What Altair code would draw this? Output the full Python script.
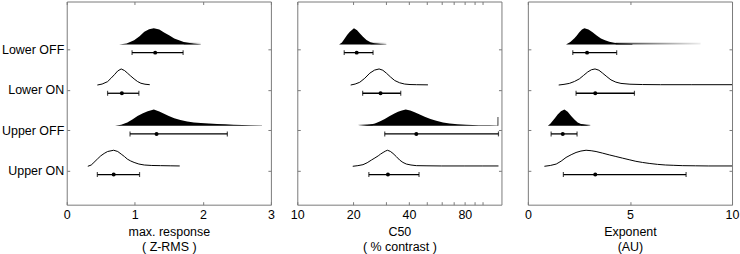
import altair as alt
import pandas as pd

# ---------------- data ----------------
ROWS = ["Lower OFF", "Lower ON", "Upper OFF", "Upper ON"]
FILLED = [True, False, True, False]

# Panel 1: max. response (Z-RMS)
P1_LOFF_X = [0.77, 0.88, 0.99, 1.07, 1.14, 1.21, 1.28, 1.36, 1.43, 1.51, 1.58, 1.72, 1.87, 1.97]
P1_LOFF_H = [0.0, 0.06, 0.25, 0.5, 0.78, 0.95, 1.0, 0.92, 0.74, 0.55, 0.36, 0.15, 0.04, 0.01]
P1_LON_X = [0.45, 0.52, 0.60, 0.65, 0.70, 0.75, 0.80, 0.85, 0.89, 0.94, 0.99, 1.04, 1.09, 1.15, 1.22]
P1_LON_H = [0.0, 0.06, 0.21, 0.42, 0.64, 0.88, 1.0, 0.9, 0.75, 0.56, 0.38, 0.22, 0.11, 0.05, 0.02]
P1_UOFF_X = [0.71, 0.80, 0.89, 0.97, 1.04, 1.12, 1.19, 1.28, 1.36, 1.43, 1.50, 1.58, 1.67, 1.77,
             1.87, 1.97, 2.09, 2.21, 2.33, 2.45, 2.58, 2.70, 2.87]
P1_UOFF_H = [0.0, 0.06, 0.2, 0.4, 0.6, 0.78, 0.9, 1.0, 0.88, 0.74, 0.6, 0.46, 0.35, 0.26,
             0.2, 0.16, 0.13, 0.1, 0.08, 0.06, 0.04, 0.025, 0.01]
P1_UON_X = [0.31, 0.36, 0.40, 0.45, 0.50, 0.55, 0.60, 0.69, 0.75, 0.80, 0.85, 0.89, 0.94, 0.99,
            1.06, 1.14, 1.25, 1.38, 1.52, 1.66]
P1_UON_H = [0.0, 0.08, 0.24, 0.45, 0.65, 0.8, 0.92, 1.0, 0.92, 0.76, 0.6, 0.45, 0.33, 0.24,
            0.14, 0.08, 0.05, 0.04, 0.03, 0.02]
P1_EST = [1.30, 0.81, 1.32, 0.69]
P1_LO = [0.96, 0.60, 0.93, 0.45]
P1_HI = [1.71, 1.06, 2.36, 1.07]
P1_TAILS = [("Lower OFF", 1.72, 1.97, "right")]

# Panel 2: C50 (% contrast), log axis
P2_LOFF_X = [16.8, 17.4, 18.05, 18.6, 19.2, 20.2, 21.0, 21.7, 22.6, 23.6, 24.8, 26.2, 28.0, 30.2]
P2_LOFF_H = [0.0, 0.12, 0.375, 0.6, 0.79, 1.0, 0.88, 0.69, 0.47, 0.27, 0.14, 0.06, 0.03, 0.01]
P2_LON_X = [19.4, 20.5, 21.7, 23.1, 24.6, 26.1, 27.6, 28.9, 30.2, 31.8, 33.5, 35.6, 37.9, 40.5,
            43.8, 47.0, 50.6]
P2_LON_H = [0.0, 0.06, 0.17, 0.42, 0.74, 0.93, 1.0, 0.92, 0.74, 0.5, 0.28, 0.14, 0.06, 0.03,
            0.02, 0.015, 0.01]
P2_UOFF_X = [21.3, 23.0, 24.6, 26.2, 27.8, 29.6, 31.5, 33.2, 34.9, 36.6, 38.4, 40.6, 42.9, 45.7,
             48.6, 52.2, 56.1, 61.0, 66.2, 73.0, 81.4, 95.0, 108.6, 120.0, 120.1, 121.2]
P2_UOFF_H = [0.0, 0.02, 0.06, 0.14, 0.26, 0.42, 0.6, 0.74, 0.86, 0.95, 1.0, 0.95, 0.84, 0.7,
             0.56, 0.42, 0.3, 0.2, 0.14, 0.09, 0.06, 0.03, 0.02, 0.015, 0.54, 0.54]
P2_UON_X = [19.9, 21.2, 22.6, 23.8, 25.1, 26.2, 27.3, 28.1, 29.0, 29.8, 30.6, 31.7, 32.8, 34.2,
            35.6, 37.1, 38.7, 41.0, 43.8, 50.0, 60.0, 80.0, 100.0, 121.4]
P2_UON_H = [0.0, 0.04, 0.1, 0.22, 0.39, 0.52, 0.65, 0.76, 0.86, 0.94, 1.0, 0.93, 0.8, 0.6,
            0.39, 0.24, 0.14, 0.08, 0.04, 0.03, 0.02, 0.02, 0.02, 0.02]
P2_EST = [20.9, 28.1, 43.8, 30.8]
P2_LO = [17.9, 22.5, 29.6, 24.3]
P2_HI = [25.6, 36.1, 121.4, 45.3]
P2_TAILS = [("Lower OFF", 24.8, 30.2, "right"), ("Upper OFF", 21.3, 25.5, "left")]

# Panel 3: Exponent (AU)
P3_LOFF_X = [1.87, 2.08, 2.28, 2.40, 2.52, 2.65, 2.77, 2.97, 3.17, 3.37, 3.58, 3.78, 3.99, 4.23,
             4.47, 5.12]
P3_LOFF_H = [0.0, 0.15, 0.375, 0.56, 0.75, 0.92, 1.0, 0.92, 0.75, 0.55, 0.37, 0.25, 0.17, 0.1,
             0.06, 0.025]
P3_LON_X = [1.51, 1.77, 2.03, 2.28, 2.52, 2.73, 2.93, 3.11, 3.29, 3.48, 3.66, 3.87, 4.07, 4.31,
            4.56, 5.0, 5.61, 6.5, 8.0, 10.0]
P3_LON_H = [0.0, 0.04, 0.1, 0.22, 0.38, 0.6, 0.81, 0.95, 1.0, 0.92, 0.74, 0.52, 0.32, 0.18,
            0.1, 0.05, 0.03, 0.02, 0.02, 0.02]
P3_UOFF_X = [0.98, 1.10, 1.22, 1.34, 1.46, 1.62, 1.79, 1.95, 2.12, 2.28, 2.44, 2.60, 2.77, 3.06]
P3_UOFF_H = [0.0, 0.12, 0.3, 0.5, 0.7, 0.9, 1.0, 0.86, 0.6, 0.38, 0.2, 0.1, 0.06, 0.01]
P3_UON_X = [0.81, 1.1, 1.39, 1.63, 1.87, 2.12, 2.36, 2.6, 2.85, 3.1, 3.34, 3.66, 3.99, 4.31,
            4.63, 4.96, 5.29, 5.61, 5.94, 6.35, 6.75, 7.15, 7.56, 8.2, 8.86, 10.0]
P3_UON_H = [0.0, 0.05, 0.14, 0.32, 0.55, 0.72, 0.86, 0.95, 1.0, 0.97, 0.92, 0.82, 0.71, 0.61,
            0.51, 0.41, 0.31, 0.24, 0.18, 0.12, 0.08, 0.06, 0.04, 0.03, 0.02, 0.02]
P3_EST = [2.90, 3.30, 1.71, 3.30]
P3_LO = [2.20, 2.36, 1.14, 1.74]
P3_HI = [4.35, 5.22, 2.41, 7.75]
P3_TAILS = [("Lower OFF", 4.3, 8.46, "right"), ("Upper OFF", 2.6, 3.06, "right")]

# axes
P1_TICKS = [0, 1, 2, 3]
P2_TICKS = [10, 20, 30, 40, 50, 60, 70, 80, 90, 100]
P2_LABELED = [10, 20, 40, 80]
P3_TICKS = [0, 5, 10]
ROW_TICKS = [1, 2, 3, 4]

# ---------------- styling ----------------
FONT = "Liberation Sans"
FS = 12.5
GRAY = "#7a7a7a"
YDOM = [-0.17, 4.83]
BASE_OFF = 0.115
PEAK = 0.395
BAR_OFF = 0.088
TAIL_H = 0.04
W, H = 205, 204


def curves_df(curves):
    recs = []
    for i, (xs, hs) in enumerate(curves):
        row = i + 1
        for j, (x, h) in enumerate(zip(xs, hs)):
            recs.append(dict(curve=ROWS[i], row=row, idx=j, x=x,
                             top=row - BASE_OFF - h * PEAK, base=row - BASE_OFF,
                             filled=FILLED[i]))
    return pd.DataFrame(recs)


def tails_df(tails, direction):
    recs = []
    for name, a, b, d in tails:
        if d != direction:
            continue
        row = ROWS.index(name) + 1
        for x in (a, b):
            recs.append(dict(curve=name, x=x, top=row - BASE_OFF - TAIL_H, base=row - BASE_OFF))
    return pd.DataFrame(recs, columns=["curve", "x", "top", "base"])


def grad(direction):
    stops = [alt.GradientStop(color="#3a3a3a", offset=0),
             alt.GradientStop(color="#eeeeee", offset=1)]
    if direction == "right":
        return alt.Gradient(gradient="linear", stops=stops, x1=0, x2=1, y1=0, y2=0)
    return alt.Gradient(gradient="linear", stops=stops, x1=1, x2=0, y1=0, y2=0)


def panel(curves, est, lo, hi, tails, xdomain, xtype, xticks, labeled, title, show_ylabels):
    df = curves_df(curves)
    filled = df[df["filled"]]
    outl = df[~df["filled"]]
    bars = pd.DataFrame(dict(row=ROW_TICKS, est=est, lo=lo, hi=hi))
    bars["yb"] = bars["row"] + BAR_OFF

    xs = alt.Scale(domain=xdomain, type=xtype, nice=False) if xtype == "log" else \
        alt.Scale(domain=xdomain, type=xtype, nice=False, zero=False)
    ys = alt.Scale(domain=YDOM, reverse=True, nice=False, zero=False)

    lab_list = ",".join(str(v) for v in labeled)
    x_bottom = alt.Axis(orient="bottom", values=xticks, offset=-3, tickSize=3, tickColor=GRAY,
                        domain=False, grid=False, labelPadding=4, labelFlush=False,
                        labelOverlap=False, labelBound=False,
                        labelExpr=f"indexof([{lab_list}], datum.value) >= 0 ? datum.label : ''",
                        title=title, titlePadding=4, titleLineHeight=16)
    x_top = alt.Axis(orient="top", values=xticks, offset=-3, tickSize=3, tickColor=GRAY,
                     domain=False, grid=False, labels=False, title=None)
    names = ",".join("'" + n + "'" for n in ROWS)
    y_left = alt.Axis(orient="left", values=ROW_TICKS, offset=-3, tickSize=3, tickColor=GRAY,
                      domain=False, grid=False, labels=show_ylabels, labelPadding=3,
                      labelExpr=f"[''," + names + "][datum.value]", title=None)
    y_right = alt.Axis(orient="right", values=ROW_TICKS, offset=-3, tickSize=3, tickColor=GRAY,
                       domain=False, grid=False, labels=False, title=None)

    layers = []
    for d in ("right", "left"):
        tdf = tails_df(tails, d)
        if len(tdf):
            layers.append(alt.Chart(tdf).mark_area(color=grad(d), interpolate="linear").encode(
                x=alt.X("x:Q", scale=xs, axis=None),
                y=alt.Y("top:Q", scale=ys, axis=None, stack=False),
                y2="base:Q",
                detail="curve:N"))

    layers.append(alt.Chart(filled).mark_area(color="black").encode(
        x=alt.X("x:Q", scale=xs, axis=None),
        y=alt.Y("top:Q", scale=ys, axis=None, stack=False),
        y2="base:Q",
        detail="curve:N"))
    layers.append(alt.Chart(outl).mark_line(color="black", strokeWidth=1).encode(
        x=alt.X("x:Q", scale=xs, axis=None),
        y=alt.Y("top:Q", scale=ys, axis=None),
        detail="curve:N",
        order="idx:Q"))
    layers.append(alt.Chart(bars).mark_rule(color="black", strokeWidth=1.3).encode(
        x=alt.X("lo:Q", scale=xs, axis=x_bottom),
        x2="hi:Q",
        y=alt.Y("yb:Q", scale=ys, axis=y_left)))
    for f in ("lo", "hi"):
        layers.append(alt.Chart(bars).mark_tick(color="black", orient="vertical", size=5,
                                                thickness=1.2).encode(
            x=alt.X(f + ":Q", scale=xs, axis=None),
            y=alt.Y("yb:Q", scale=ys, axis=None)))
    layers.append(alt.Chart(bars).mark_circle(color="black", size=16, opacity=1).encode(
        x=alt.X("est:Q", scale=xs, axis=x_top),
        y=alt.Y("yb:Q", scale=ys, axis=y_right)))

    return alt.layer(*layers).resolve_axis(x="independent", y="independent").properties(
        width=W, height=H)


p1 = panel([(P1_LOFF_X, P1_LOFF_H), (P1_LON_X, P1_LON_H), (P1_UOFF_X, P1_UOFF_H),
            (P1_UON_X, P1_UON_H)], P1_EST, P1_LO, P1_HI, P1_TAILS,
           [0, 3], "linear", P1_TICKS, P1_TICKS, ["max. response", "( Z-RMS )"], True)
p2 = panel([(P2_LOFF_X, P2_LOFF_H), (P2_LON_X, P2_LON_H), (P2_UOFF_X, P2_UOFF_H),
            (P2_UON_X, P2_UON_H)], P2_EST, P2_LO, P2_HI, P2_TAILS,
           [10, 126], "log", P2_TICKS, P2_LABELED, ["C50", "( % contrast )"], False)
p3 = panel([(P3_LOFF_X, P3_LOFF_H), (P3_LON_X, P3_LON_H), (P3_UOFF_X, P3_UOFF_H),
            (P3_UON_X, P3_UON_H)], P3_EST, P3_LO, P3_HI, P3_TAILS,
           [0, 10], "linear", P3_TICKS, P3_TICKS, ["Exponent", "(AU)"], False)

chart = alt.hconcat(p1, p2, p3, spacing=26.5, bounds="flush").properties(
    padding=0, background="white"
).configure_view(stroke=GRAY, strokeWidth=1).configure_axis(
    labelFont=FONT, labelFontSize=FS, labelColor="black",
    titleFont=FONT, titleFontSize=FS, titleFontWeight="normal", titleColor="black"
)

chart.save("out.html", embed_options={"renderer": "svg", "actions": False})
